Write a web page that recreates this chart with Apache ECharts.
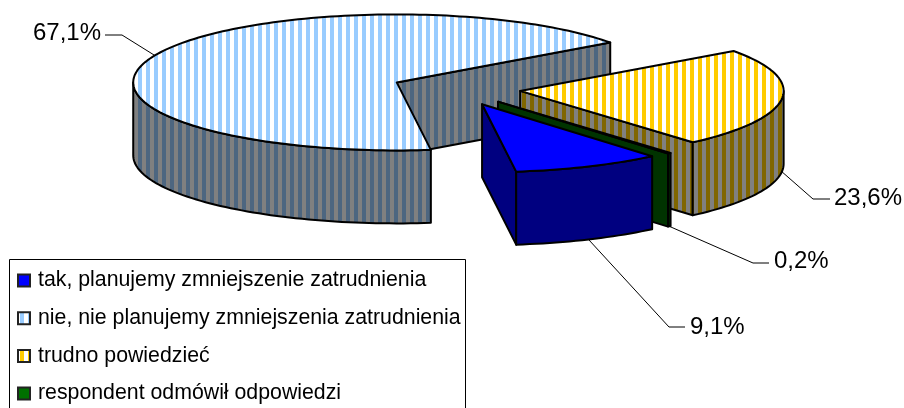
<!DOCTYPE html>
<html><head><meta charset="utf-8">
<style>html,body{margin:0;padding:0;background:#fff}#c{width:904px;height:408px}</style>
<script src="https://cdn.jsdelivr.net/npm/echarts@6/dist/echarts.min.js"></script>
</head><body><div id="c"></div>
<script>
// Data (draw order: back to front is handled below)
const categories = ['tak, planujemy zmniejszenie zatrudnienia','nie, nie planujemy zmniejszenia zatrudnienia','trudno powiedzieć','respondent odmówił odpowiedzi'];
const values = [9.1, 67.1, 23.6, 0.2];
const valueLabels = ['9,1%','67,1%','23,6%','0,2%'];

// Style
const topA = ['#0000FF','#99CCFF','#FFCC00','#006600'];
const topB = ['#0000FF','#FFFFFF','#FFFFFF','#006600'];
const sideA = ['#000080','#4D6680','#806600','#003300'];
const sideB = ['#000080','#808080','#808080','#003300'];
const legendFill = ['#0000FF',null,null,'#007000'];

// Layout of the pie
const CX = 456, CY = 89, RX = 263.5, RY = 68, DEPTH = 73, EXPLODE = 0.245, FIRST_ANGLE = 139.8;
const STRIPE = 4, PHASE = 2;
const drawOrder = [1,2,3,0];
const leaderKnee = [[669,327],[122,35],[813,199],[753,263]];
const leaderEnd  = [[685,327],[105,35],[830,199],[769,263]];
const labelPos   = [[690,327],[33,33],[834,198],[774,261]];

function stripes(a,b){
  if(a===b) return a;
  const cv=document.createElement('canvas');cv.width=STRIPE*2;cv.height=4;
  const g=cv.getContext('2d');
  g.fillStyle=b;g.fillRect(0,0,STRIPE*2,4);
  g.fillStyle=a;g.fillRect(PHASE,0,STRIPE,4);
  return {image:cv,repeat:'repeat'};
}
const rad=d=>d*Math.PI/180;
const total=values.reduce((s,v)=>s+v,0);
const spans=[];let acc=FIRST_ANGLE;
values.forEach(v=>{const d=v/total*360;spans.push([acc,acc+d]);acc+=d;});

function renderSlice(i){
  const [a0,a1]=spans[i];
  const mid=(a0+a1)/2;
  const ax=CX+EXPLODE*RX*Math.sin(rad(mid)), ay=CY-EXPLODE*RY*Math.cos(rad(mid));
  const pt=(t,dz=0)=>[ax+RX*Math.sin(rad(t)),ay-RY*Math.cos(rad(t))+dz];
  const arc=(s,e,dz=0)=>{const n=Math.max(2,Math.ceil((e-s)/1.5));const o=[];for(let k=0;k<=n;k++)o.push(pt(s+(e-s)*k/n,dz));return o;};
  const side=stripes(sideA[i],sideB[i]), top=stripes(topA[i],topB[i]);
  const stroke={stroke:'#000',lineWidth:2,lineJoin:'round'};
  const kids=[];
  const poly=(points,fill)=>kids.push({type:'polygon',shape:{points},style:Object.assign({fill},stroke)});
  // cut faces
  [[a0,Math.sin(rad(a0))<0],[a1,Math.sin(rad(a1))>0]].forEach(([t,vis])=>{
    if(vis){const p=pt(t);poly([[ax,ay],p,[p[0],p[1]+DEPTH],[ax,ay+DEPTH]],side);}
  });
  // outer wall: the front half of the rim (90..270 deg, also shifted by a full turn)
  [0,360].forEach(sh=>{
    const s=Math.max(a0,90+sh), e=Math.min(a1,270+sh);
    if(e>s) poly(arc(s,e).concat(arc(s,e,DEPTH).reverse()),side);
  });
  // top
  poly([[ax,ay]].concat(arc(a0,a1)),top);
  // leader and label
  let t=mid%360;const front=t>90&&t<270;
  const anchor=pt(mid,front?DEPTH:0);
  kids.push({type:'polyline',shape:{points:[anchor,leaderKnee[i],leaderEnd[i]]},style:{stroke:'#000',lineWidth:1,fill:null},z2:50});
  kids.push({type:'text',x:labelPos[i][0],y:labelPos[i][1],style:{text:valueLabels[i],font:'24px "Liberation Sans"',fill:'#000',textAlign:'left',textVerticalAlign:'middle'},z2:50});
  return {type:'group',children:kids};
}

const series=drawOrder.map(i=>({
  name:categories[i],type:'custom',coordinateSystem:'none',silent:true,animation:false,clip:false,
  z:2,data:[[values[i]]],
  renderItem:()=>renderSlice(i),
  itemStyle:{color:'#000'}
}));

const chart=echarts.init(document.getElementById('c'),null,{renderer:'canvas'});
chart.setOption({
  animation:false,backgroundColor:'#fff',
  graphic:[{type:'rect',z:0,shape:{x:9.5,y:259.5,width:456,height:150},style:{fill:'#fff',stroke:'#000',lineWidth:1}}],
  legend:{
    orient:'vertical',left:17,top:270,itemGap:16.7,itemWidth:12,itemHeight:12,selectedMode:false,padding:0,z:5,
    textStyle:{fontFamily:'"Liberation Sans"',fontSize:21.3,color:'#000',padding:[0,0,0,3]},
    data:categories.map((n,i)=>({name:n,icon:'rect',itemStyle:{color:legendFill[i]||stripes(topA[i],topB[i]),borderColor:'#222',borderWidth:2}}))
  },
  series
});
</script></body></html>
